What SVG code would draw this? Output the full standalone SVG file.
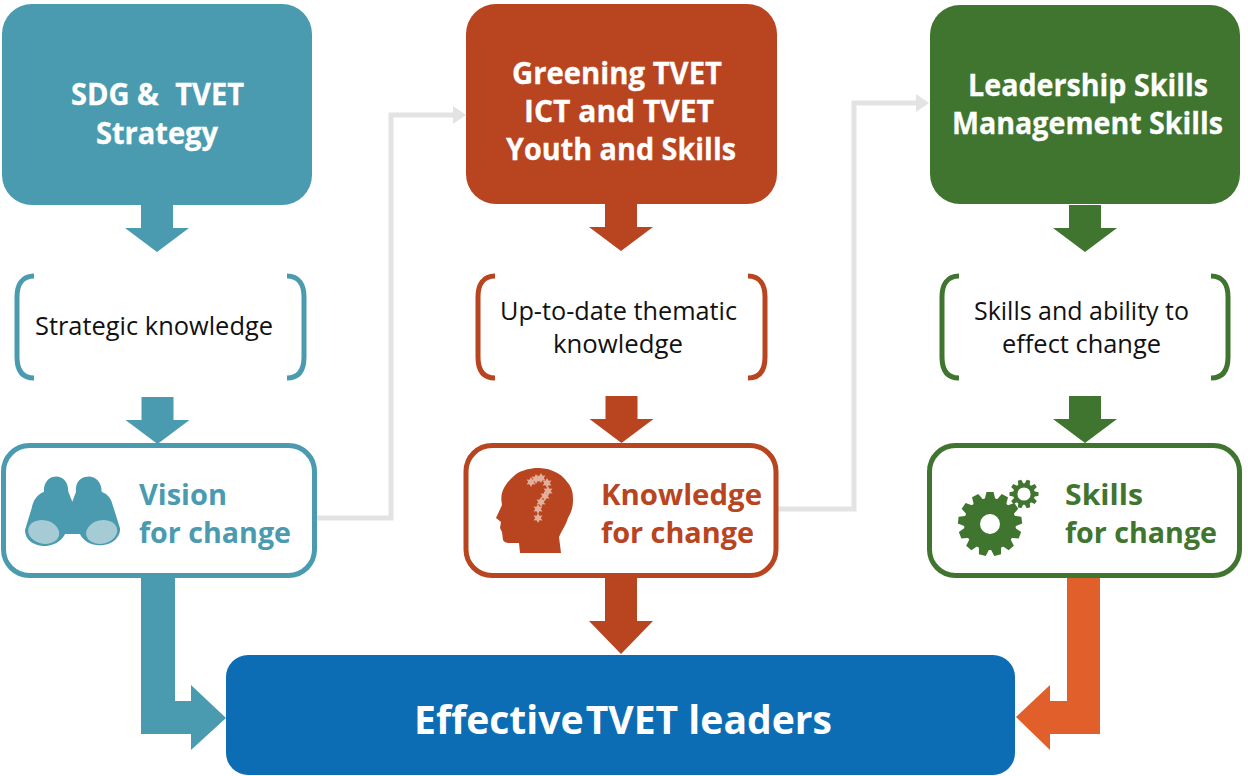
<svg xmlns="http://www.w3.org/2000/svg" width="1248" height="776" viewBox="0 0 1248 776">
<style>
text{font-family:"Open Sans","Noto Sans","Liberation Sans",sans-serif}
.h{font-weight:700;font-size:29.500px;fill:#fff;stroke:#fff;stroke-width:.3}
.b{font-weight:700;font-size:29px}
.k{font-size:25px;fill:#111}
.t{fill:#4a9bb0}.r{fill:#b8451f}.g{fill:#40752f}
.bk{fill:none;stroke-width:5}
.card{fill:#fff;stroke-width:5}
.link{fill:none;stroke:#e3e3e3;stroke-width:5}
</style>
<defs>
<path id="dn" d="M-16,0H16V23H32L0,47L-32,23H-16Z"/>
<path id="lb" d="M19,3C7,3 2,12 2,24V84C2,97 7,105 19,105" class="bk"/>
<path id="rb" d="M0,3C12,3 17,12 17,24V84C17,97 12,105 0,105" class="bk"/>
<polygon id="st" points="0,-5 1.500,-2.200 4.500,-2.500 2.700,0 4.500,2.500 1.500,2.200 0,5 -1.500,2.200 -4.500,2.500 -2.700,0 -4.500,-2.500 -1.500,-2.200" fill="#e3b09d"/>
<path id="tb" d="M-5.500,-24L-3.500,-32H3.500L5.500,-24Z" fill="#40752f"/>
<path id="ts" d="M-2.700,-10L-1.800,-14.500H1.800L2.700,-10Z" fill="#40752f"/>
</defs>
<g id="connectors">
<path class="link" d="M316,518H391V115H455"/><path d="M453,106L466,115L453,124Z" fill="#e3e3e3"/>
<path class="link" d="M778,509H854V103H918"/><path d="M916,94L929,103L916,112Z" fill="#e3e3e3"/>
<use href="#dn" x="157" y="205" class="t"/>
<use href="#dn" x="157.500" y="397" class="t"/>
<use href="#dn" x="621" y="204" class="r"/>
<use href="#dn" x="621.500" y="396" class="r"/>
<use href="#dn" x="1085" y="205" class="g"/>
<use href="#dn" x="1085" y="396" class="g"/>
<path class="t" d="M141,576H175V701H191V685L226,718L191,750V734H141Z"/>
<path class="r" d="M605,576H637V621H653L621,654L589,621H605Z"/>
<path fill="#e05f2a" d="M1067,577H1100V734H1050V750L1016,717L1050,685V701H1067Z"/>
</g>
<g id="node-sdg"><rect x="2" y="4" width="310" height="201" rx="30" class="t"/>
<text class="h" x="71" y="105" textLength="173" lengthAdjust="spacingAndGlyphs">SDG &amp;<tspan dx="9"> TVET</tspan></text>
<text class="h" x="96" y="144" textLength="122" lengthAdjust="spacingAndGlyphs">Strategy</text></g>
<g id="node-greening"><rect x="466" y="4" width="311" height="200" rx="30" class="r"/>
<text class="h" x="512" y="83.500" textLength="210" lengthAdjust="spacingAndGlyphs">Greening TVET</text>
<text class="h" x="524" y="121.500" textLength="190" lengthAdjust="spacingAndGlyphs">ICT and TVET</text>
<text class="h" x="506" y="159.500" textLength="230" lengthAdjust="spacingAndGlyphs">Youth and Skills</text></g>
<g id="node-leadership"><rect x="930" y="5" width="310" height="199" rx="30" class="g"/>
<text class="h" x="968" y="96" textLength="240" lengthAdjust="spacingAndGlyphs">Leadership Skills</text>
<text class="h" x="952" y="134" textLength="271" lengthAdjust="spacingAndGlyphs">Management Skills</text></g>
<g id="node-strategic"><use href="#lb" x="15" y="273" stroke="#4a9bb0"/><use href="#rb" x="287" y="273" stroke="#4a9bb0"/>
<text class="k" x="35" y="335" textLength="238" lengthAdjust="spacingAndGlyphs">Strategic knowledge</text></g>
<g id="node-thematic"><use href="#lb" x="476" y="273" stroke="#b8451f"/><use href="#rb" x="748" y="273" stroke="#b8451f"/>
<text class="k" x="500" y="320" textLength="237" lengthAdjust="spacingAndGlyphs">Up-to-date thematic</text>
<text class="k" x="553" y="353" textLength="130" lengthAdjust="spacingAndGlyphs">knowledge</text></g>
<g id="node-ability"><use href="#lb" x="940" y="273" stroke="#40752f"/><use href="#rb" x="1211" y="273" stroke="#40752f"/>
<text class="k" x="974" y="320" textLength="215" lengthAdjust="spacingAndGlyphs">Skills and ability to</text>
<text class="k" x="1002" y="353" textLength="159" lengthAdjust="spacingAndGlyphs">effect change</text></g>
<g id="node-vision"><rect x="3.500" y="445.500" width="311" height="130" rx="26" class="card" stroke="#4a9bb0"/>
<g transform="translate(0,430) scale(.3333)"><path class="t" d="M217,215L205,185C205,152 185,138 165,140C145,140 130,160 132,185C110,195 100,210 95,235L75,300C75,335 110,350 140,348C170,345 190,325 195,312H240C250,335 280,350 310,345C345,340 362,315 360,295L335,215C330,200 320,192 305,185C305,155 285,138 262,140C240,140 225,160 228,185Z"/>
<ellipse cx="131" cy="306" rx="47" ry="35" transform="rotate(12 131 306)" fill="#a6cbd5"/><ellipse cx="305" cy="306" rx="47" ry="35" transform="rotate(-12 305 306)" fill="#a6cbd5"/></g>
<text class="b t" x="139" y="505" textLength="88" lengthAdjust="spacingAndGlyphs">Vision</text>
<text class="b t" x="139" y="543" textLength="152" lengthAdjust="spacingAndGlyphs">for change</text></g>
<g id="node-knowledge"><rect x="466" y="445.500" width="310" height="130" rx="26" class="card" stroke="#b8451f"/>
<path class="r" d="M520,553H561L559,537C562,530 566,525 568,518C572,511 573,506 573,500C573,492 572,488 568,483C564,477 559,473 553,471C547,468 541,468 535,468C527,469 520,471 515,475C509,480 505,485 503,490C501,495 501,500 502,505L496,518L501,522L500,528L502,532L503,540C505,543 507,543 510,543L519,543Z"/>
<use href="#st" x="531" y="482"/><use href="#st" x="536" y="479"/><use href="#st" x="541" y="478"/><use href="#st" x="547" y="483"/><use href="#st" x="548" y="491"/><use href="#st" x="545" y="496"/><use href="#st" x="541" y="502"/><use href="#st" x="538" y="509"/><use href="#st" x="538" y="518"/>
<text class="b r" x="601" y="505" textLength="161" lengthAdjust="spacingAndGlyphs">Knowledge</text>
<text class="b r" x="601" y="543" textLength="153" lengthAdjust="spacingAndGlyphs">for change</text></g>
<g id="node-skills"><rect x="929.500" y="445.500" width="310" height="130" rx="26" class="card" stroke="#40752f"/>
<circle cx="990" cy="524" r="18" fill="none" stroke="#40752f" stroke-width="16"/>
<g transform="translate(990,524)"><use href="#tb"/><use href="#tb" transform="rotate(27.690)"/><use href="#tb" transform="rotate(55.380)"/><use href="#tb" transform="rotate(83.080)"/><use href="#tb" transform="rotate(110.770)"/><use href="#tb" transform="rotate(138.460)"/><use href="#tb" transform="rotate(166.150)"/><use href="#tb" transform="rotate(193.850)"/><use href="#tb" transform="rotate(221.540)"/><use href="#tb" transform="rotate(249.230)"/><use href="#tb" transform="rotate(276.920)"/><use href="#tb" transform="rotate(304.620)"/><use href="#tb" transform="rotate(332.310)"/></g>
<circle cx="1024" cy="494" r="8.700" fill="none" stroke="#40752f" stroke-width="4.200"/>
<g transform="translate(1024,494) rotate(18)"><use href="#ts"/><use href="#ts" transform="rotate(36)"/><use href="#ts" transform="rotate(72)"/><use href="#ts" transform="rotate(108)"/><use href="#ts" transform="rotate(144)"/><use href="#ts" transform="rotate(180)"/><use href="#ts" transform="rotate(216)"/><use href="#ts" transform="rotate(252)"/><use href="#ts" transform="rotate(288)"/><use href="#ts" transform="rotate(324)"/></g>
<text class="b g" x="1065" y="505" textLength="78" lengthAdjust="spacingAndGlyphs">Skills</text>
<text class="b g" x="1065" y="543" textLength="152" lengthAdjust="spacingAndGlyphs">for change</text></g>
<g id="node-leaders"><rect x="226" y="655" width="789" height="120" rx="22" fill="#0c6db5"/>
<text x="414" y="734" font-size="39" font-weight="700" fill="#fff" textLength="418" lengthAdjust="spacingAndGlyphs">Effective<tspan dx="-8"> TVET</tspan> leaders</text></g>
</svg>
